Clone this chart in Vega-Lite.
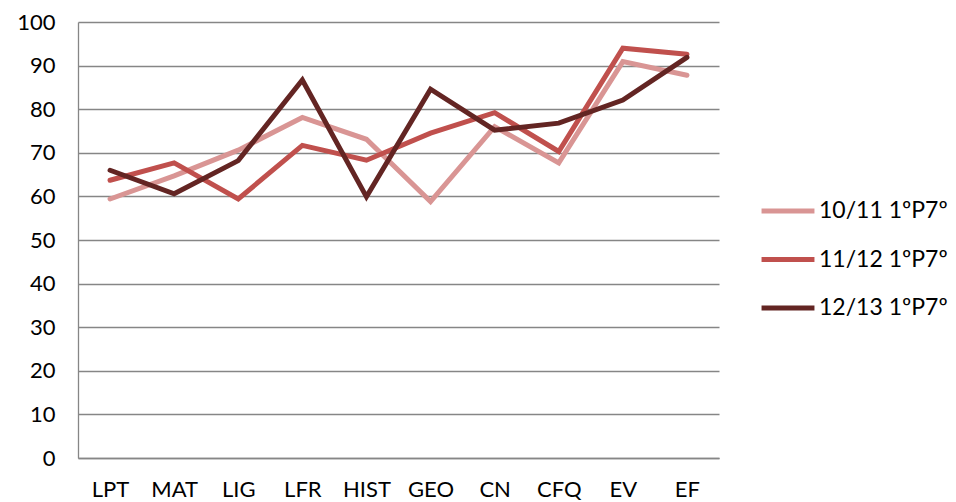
{
  "$schema": "https://vega.github.io/schema/vega-lite/v6.json",
  "width": 641,
  "height": 436,
  "autosize": "none",
  "padding": {"left": 78, "top": 22, "right": 237, "bottom": 44},
  "background": "white",
  "config": {
    "view": {"stroke": null},
    "font": "Lato",
    "axis": {"labelFont": "Lato", "labelColor": "#000000", "labelFontSize": 22}
  },
  "data": {
    "values": [
      {"subject": "LPT", "series": "10/11 1ºP7º", "value": 59.4},
      {"subject": "MAT", "series": "10/11 1ºP7º", "value": 64.7},
      {"subject": "LIG", "series": "10/11 1ºP7º", "value": 70.6},
      {"subject": "LFR", "series": "10/11 1ºP7º", "value": 78.1},
      {"subject": "HIST", "series": "10/11 1ºP7º", "value": 73.1},
      {"subject": "GEO", "series": "10/11 1ºP7º", "value": 58.8},
      {"subject": "CN", "series": "10/11 1ºP7º", "value": 76.0},
      {"subject": "CFQ", "series": "10/11 1ºP7º", "value": 67.7},
      {"subject": "EV", "series": "10/11 1ºP7º", "value": 90.9},
      {"subject": "EF", "series": "10/11 1ºP7º", "value": 87.8},
      {"subject": "LPT", "series": "11/12 1ºP7º", "value": 63.7},
      {"subject": "MAT", "series": "11/12 1ºP7º", "value": 67.7},
      {"subject": "LIG", "series": "11/12 1ºP7º", "value": 59.4},
      {"subject": "LFR", "series": "11/12 1ºP7º", "value": 71.7},
      {"subject": "HIST", "series": "11/12 1ºP7º", "value": 68.3},
      {"subject": "GEO", "series": "11/12 1ºP7º", "value": 74.5},
      {"subject": "CN", "series": "11/12 1ºP7º", "value": 79.2},
      {"subject": "CFQ", "series": "11/12 1ºP7º", "value": 70.3},
      {"subject": "EV", "series": "11/12 1ºP7º", "value": 94.0},
      {"subject": "EF", "series": "11/12 1ºP7º", "value": 92.6},
      {"subject": "LPT", "series": "12/13 1ºP7º", "value": 66.0},
      {"subject": "MAT", "series": "12/13 1ºP7º", "value": 60.6},
      {"subject": "LIG", "series": "12/13 1ºP7º", "value": 68.2},
      {"subject": "LFR", "series": "12/13 1ºP7º", "value": 86.7},
      {"subject": "HIST", "series": "12/13 1ºP7º", "value": 59.9},
      {"subject": "GEO", "series": "12/13 1ºP7º", "value": 84.6},
      {"subject": "CN", "series": "12/13 1ºP7º", "value": 75.2},
      {"subject": "CFQ", "series": "12/13 1ºP7º", "value": 76.8},
      {"subject": "EV", "series": "12/13 1ºP7º", "value": 82.1},
      {"subject": "EF", "series": "12/13 1ºP7º", "value": 91.9}
    ]
  },
  "mark": {"type": "line", "strokeWidth": 5, "strokeCap": "round", "strokeJoin": "miter"},
  "encoding": {
    "x": {
      "field": "subject",
      "type": "nominal",
      "sort": ["LPT", "MAT", "LIG", "LFR", "HIST", "GEO", "CN", "CFQ", "EV", "EF"],
      "scale": {"paddingInner": 0, "paddingOuter": 0.5},
      "axis": {
        "title": null,
        "labelAngle": 0,
        "ticks": false,
        "grid": false,
        "domain": true,
        "domainColor": "#868686",
        "domainWidth": 1.3,
        "labelPadding": 21
      }
    },
    "y": {
      "field": "value",
      "type": "quantitative",
      "scale": {"domain": [0, 100], "nice": false, "zero": true},
      "axis": {
        "title": null,
        "values": [0, 10, 20, 30, 40, 50, 60, 70, 80, 90, 100],
        "ticks": false,
        "grid": true,
        "gridColor": "#868686",
        "gridWidth": 1.3,
        "domain": true,
        "domainColor": "#868686",
        "domainWidth": 1.3,
        "labelPadding": 23
      }
    },
    "color": {
      "field": "series",
      "type": "nominal",
      "scale": {
        "domain": ["10/11 1ºP7º", "11/12 1ºP7º", "12/13 1ºP7º"],
        "range": ["#D99594", "#C0504D", "#632523"]
      },
      "legend": {
        "title": null,
        "orient": "none",
        "legendX": 681,
        "legendY": 160,
        "symbolType": "stroke",
        "symbolStrokeWidth": 5,
        "symbolSize": 2800,
        "labelFontSize": 23,
        "labelFont": "Lato",
        "labelColor": "#000000",
        "labelOffset": 2,
        "rowPadding": 7.5
      }
    }
  }
}
